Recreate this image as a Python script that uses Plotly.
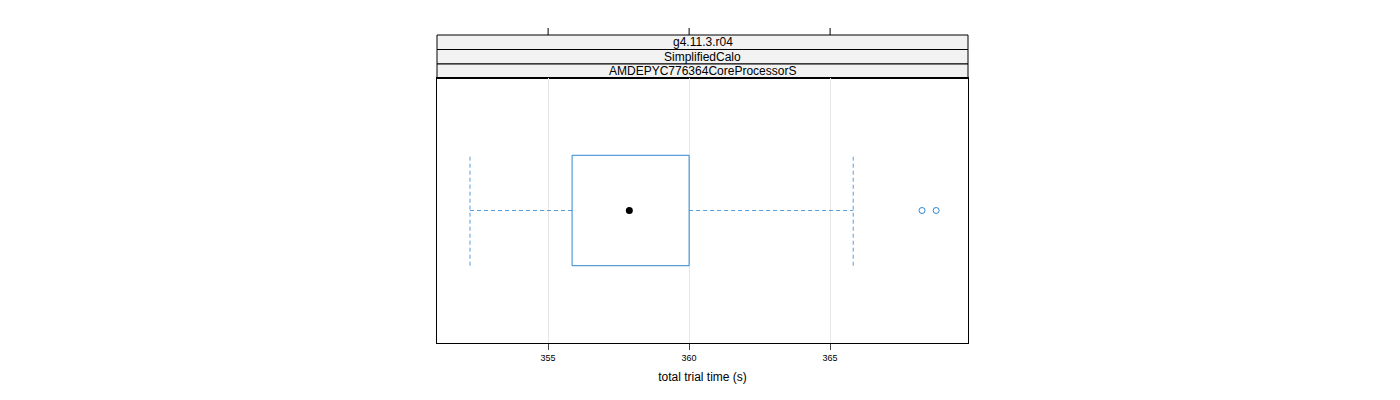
import plotly.graph_objects as go

strips = ["g4.11.3.r04", "SimplifiedCalo", "AMDEPYC776364CoreProcessorS"]
whisk_lo, q1, med, q3, whisk_hi = 352.23, 355.85, 357.88, 360.0, 365.82
outliers = [368.26, 368.76]
ticks = [355, 360, 365]
xrange_ = [351.06, 369.89]
col = "#2e86d1"

fig = go.Figure()
hw = 0.25
fig.add_trace(go.Scatter(x=[q1, q3, q3, q1, q1], y=[1-hw, 1-hw, 1+hw, 1+hw, 1-hw],
                         mode="lines", line=dict(color=col, width=1), hoverinfo="skip"))
for a, b in [(whisk_lo, q1), (q3, whisk_hi)]:
    fig.add_trace(go.Scatter(x=[a, b], y=[1, 1], mode="lines",
                             line=dict(color=col, width=1, dash="4px,3px"), opacity=0.8))
for w in [whisk_lo, whisk_hi]:
    fig.add_trace(go.Scatter(x=[w, w], y=[1-hw, 1+hw], mode="lines",
                             line=dict(color=col, width=1, dash="4px,3px"), opacity=0.8))
fig.add_trace(go.Scatter(x=[med], y=[1], mode="markers", marker=dict(color="black", size=7)))
fig.add_trace(go.Scatter(x=outliers, y=[1]*len(outliers), mode="markers",
                         marker=dict(color="rgba(0,0,0,0)", size=6, line=dict(color=col, width=1))))

H = 265.0
shapes = []
for i, s in enumerate(strips):
    top = (343 - 35 - i*14.5) / H
    bot = top - 14.5/H
    shapes.append(dict(type="rect", xref="paper", yref="paper", x0=0, x1=1, y0=bot, y1=top,
                       fillcolor="#f2f2f2", line=dict(color="black", width=1), layer="below"))
    fig.add_annotation(x=0.5, y=(top+bot)/2, xref="paper", yref="paper", text=s,
                       xanchor="center", yanchor="middle",
                       showarrow=False, font=dict(size=12, color="black"))
for t in ticks:
    shapes.append(dict(type="line", xref="x", yref="paper", x0=t, x1=t,
                       y0=(343-35)/H, y1=(343-28)/H, line=dict(color="black", width=1)))

fig.update_layout(
    width=1400, height=400, showlegend=False, shapes=shapes,
    margin=dict(l=429, r=440, t=70, b=65),
    plot_bgcolor="white", paper_bgcolor="white",
    font=dict(family="Liberation Sans, Arial, sans-serif", color="black"),
    xaxis=dict(range=xrange_, tickvals=ticks, ticks="outside", ticklen=6,
               tickfont=dict(size=9), showgrid=True, gridcolor="#e6e6e6",
               showline=True, linecolor="black", mirror=True, zeroline=False,
               title=dict(text="total trial time (s)", font=dict(size=12), standoff=10)),
    yaxis=dict(range=[0.4, 1.6], showticklabels=False, ticks="", showgrid=False,
               showline=True, linecolor="black", mirror=True, zeroline=False),
)
fig.write_html("out.html")
